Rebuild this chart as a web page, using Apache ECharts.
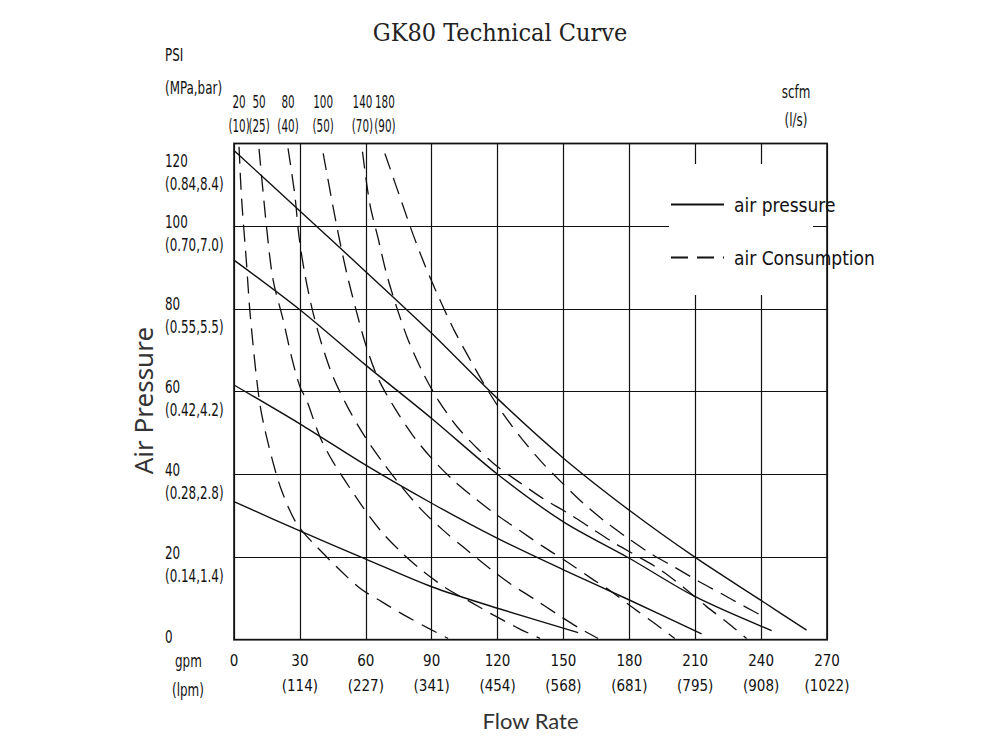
<!DOCTYPE html>
<html>
<head>
<meta charset="utf-8">
<title>GK80 Technical Curve</title>
<script src="https://cdn.jsdelivr.net/npm/echarts@6/dist/echarts.min.js"></script>
<style>
  html, body { margin: 0; padding: 0; background: #fff; }
  #chart { width: 1000px; height: 750px; }
</style>
</head>
<body>
<div id="chart"></div>
<script>
var ink = '#111';
var narrow = '"DejaVu Sans Condensed", "Liberation Sans", sans-serif';

// axis ticks
var gpmTicks = [0, 30, 60, 90, 120, 150, 180, 210, 240, 270];
var lpmTicks = ['', '114', '227', '341', '454', '568', '681', '795', '908', '1022'];
var psiTicks = [0, 20, 40, 60, 80, 100, 120];
var mpaBarTicks = ['', '(0.14,1.4)', '(0.28,2.8)', '(0.42,4.2)', '(0.55,5.5)', '(0.70,7.0)', '(0.84,8.4)'];

// air pressure curves [gpm, psi]
var pressure1 = [[0, 118.3], [30, 103.7], [60, 89], [90, 74.1], [120, 58.3], [150, 43.9], [180, 31.3], [210, 19.9], [240, 9.5], [260.7, 2.3]];
var pressure2 = [[0, 91.8], [30, 79.8], [60, 66.4], [90, 53.5], [120, 40], [150, 28.5], [180, 19.7], [210, 10.4], [244.8, 2.2]];
var pressure3 = [[0, 61.6], [30, 52.2], [60, 42.2], [90, 33], [120, 24.5], [150, 16.9], [180, 9.6], [212.9, 1.4]];
var pressure4 = [[0, 33.4], [30, 26.3], [60, 19.5], [90, 12.8], [120, 7.6], [156.7, 1.7]];

// air consumption curves [gpm, psi]
var air20 = [[2.3, 119.2], [3.4, 107.1], [5.7, 91], [7.2, 79.7], [10.2, 63.6], [12.5, 54.8], [17.1, 44.2], [21.6, 36.2], [28.5, 28.1], [37.6, 22.5], [56.5, 12.8], [67.2, 9.2], [77.3, 6], [88.4, 2.8], [97.5, 0.3]];
var air50 = [[11.4, 118.7], [14.8, 99.9], [17.8, 87], [22.4, 77.3], [26.2, 68.4], [30, 61.2], [33, 58], [39.1, 49.1], [45.1, 43], [58.5, 32.2], [67.2, 26.1], [76.7, 20.9], [86.4, 16.4], [96.8, 12.4], [107.4, 9.2], [118, 6], [128.6, 3], [139.3, 0.3]];
var air80 = [[24.6, 118.8], [27.7, 107.5], [29.6, 97.5], [32.2, 88.6], [35.7, 79.7], [39.8, 71.7], [45.1, 63.6], [52, 56], [59.6, 49.1], [67.6, 43], [76.3, 37], [85.4, 31.4], [95.2, 26.5], [105.1, 22.1], [115.3, 17.7], [125.6, 13.6], [136.2, 10], [146.5, 6.4], [157.2, 2.8], [165.8, 0.3]];
var air100 = [[40.6, 117.6], [45.1, 104.7], [48.2, 96.3], [51.7, 87.8], [55.8, 79.3], [60, 71.3], [65.6, 63.2], [73.2, 56], [81.3, 49.5], [89.9, 43.9], [99.8, 38.6], [109.7, 34.2], [119.5, 30.2], [130.1, 26.4], [140.8, 22.5], [151.4, 18.9], [161.7, 15.2], [171.9, 11.6], [182.5, 7.4], [192.4, 3.6], [200.7, 0.3]];
var air140 = [[58.5, 118], [61.8, 105.5], [65.6, 97.1], [69.4, 88.6], [74, 80.5], [79.3, 72.5], [85.8, 64.8], [92.9, 58], [101.6, 51.5], [110.7, 46.3], [120.3, 41.7], [130.9, 37.7], [141.1, 34], [152.1, 30.6], [162.8, 26.9], [173.4, 23.3], [184, 20.1], [194.7, 16.7], [205.3, 12.4], [215.2, 8], [225, 4], [233.4, 0.3]];
var air180 = [[68.7, 117.6], [76.3, 105.9], [81.6, 97.9], [87.2, 90.2], [93.4, 82.6], [99.8, 75.3], [107.1, 68.1], [115, 60.8], [122.3, 54.8], [130.9, 48.7], [140, 43], [149.6, 37.8], [159, 33], [169.2, 28.5], [179.5, 24.5], [190.1, 20.7], [200.7, 17.5], [211.3, 14.2], [222, 11.1], [232.6, 8], [241.7, 5.4]];

var pressureCurves = [pressure1, pressure2, pressure3, pressure4];
var consumptionCurves = [air20, air50, air80, air100, air140, air180];
var consumptionLabels = ['20\n(10)', '50\n(25)', '80\n(40)', '100\n(50)', '140\n(70)', '180\n(90)'];

var chart = echarts.init(document.getElementById('chart'), null, { renderer: 'svg' });

var series = [];
pressureCurves.forEach(function(d) {
  series.push({
    name: 'air pressure',
    type: 'line',
    data: d,
    symbol: 'none',
    smooth: 0.3,
    lineStyle: { color: ink, width: 1.4, type: 'solid' },
    itemStyle: { color: ink }
  });
});
consumptionCurves.forEach(function(d) {
  series.push({
    name: 'air Consumption',
    type: 'line',
    data: d,
    symbol: 'none',
    smooth: 0.3,
    lineStyle: { color: ink, width: 1.3, type: [17, 9] },
    itemStyle: { color: ink }
  });
});

chart.setOption({
  animation: false,
  backgroundColor: '#fff',
  title: {
    text: 'GK80 Technical Curve',
    left: 'center',
    top: 15,
    textStyle: { fontFamily: '"DejaVu Serif Condensed", "Liberation Mono", serif', fontWeight: 'normal', fontSize: 25, color: '#222' }
  },
  grid: { left: 234, right: 173, top: 143.5, bottom: 110.3, show: true, borderColor: '#444', borderWidth: 2, backgroundColor: 'transparent' },
  legend: {
    orient: 'vertical',
    left: 665,
    top: 190,
    itemWidth: 53,
    itemHeight: 20,
    itemGap: 34,
    selectedMode: false,
    itemStyle: { opacity: 0 },
    data: ['air pressure', 'air Consumption'],
    textStyle: { fontFamily: narrow, fontSize: 19, color: ink, padding: [0, 0, 0, 5] }
  },
  xAxis: {
    type: 'value',
    min: 0,
    max: 270,
    interval: 30,
    name: 'Flow Rate',
    nameLocation: 'middle',
    nameGap: 70,
    nameTextStyle: { fontFamily: 'Lato, "Noto Sans", sans-serif', fontSize: 22, color: '#333' },
    axisLine: { show: false },
    axisTick: { show: false },
    axisLabel: {
      margin: 9,
      fontFamily: narrow,
      fontSize: 15,
      lineHeight: 25,
      color: ink,
      formatter: function(v) {
        var i = gpmTicks.indexOf(v);
        return v === 0 ? '0' : v + '\n(' + lpmTicks[i] + ')';
      }
    },
    splitLine: { show: true, lineStyle: { color: ink, width: 1.2 } }
  },
  yAxis: {
    type: 'value',
    min: 0,
    max: 120,
    interval: 20,
    name: 'Air Pressure',
    nameLocation: 'middle',
    nameRotate: 90,
    nameGap: 78,
    nameTextStyle: { fontFamily: '"Noto Sans", sans-serif', fontSize: 26, color: '#333', padding: [0, 18, 0, 0] },
    axisLine: { show: false },
    axisTick: { show: false },
    axisLabel: { show: false },
    splitLine: { show: true, lineStyle: { color: ink, width: 1.2 } }
  },
  series: series
});

// texts placed from the axis scales; the drawing uses a narrow font, so squeeze them
function label(x, y, text, align, vAlign, size, squeeze) {
  return {
    type: 'text', x: x, y: y, scaleX: squeeze, z: 5,
    style: { text: text, align: align, verticalAlign: vAlign, fontFamily: narrow, fontSize: size, lineHeight: 24, fill: ink }
  };
}
var texts = [];
psiTicks.forEach(function(v, i) {
  var p = chart.convertToPixel({ gridIndex: 0 }, [0, v]);
  var off = v === 120 ? 18 : (v === 0 ? -2 : -4);
  texts.push(label(165, p[1] + off, String(v), 'left', 'middle', 17, 0.78));
  if (mpaBarTicks[i]) {
    texts.push(label(165, p[1] + off + 23, mpaBarTicks[i], 'left', 'middle', 17, 0.78));
  }
});
consumptionCurves.forEach(function(d, i) {
  var p = chart.convertToPixel({ gridIndex: 0 }, [d[0][0], 120]);
  texts.push(label(p[0], p[1] - 5, consumptionLabels[i], 'center', 'bottom', 17, 0.68));
});
texts.push(label(165, 55, 'PSI', 'left', 'middle', 17, 0.78));
texts.push(label(165, 88, '(MPa,bar)', 'left', 'middle', 17, 0.78));
texts.push(label(796, 92, 'scfm', 'center', 'middle', 17, 0.78));
texts.push(label(796, 120, '(l/s)', 'center', 'middle', 17, 0.78));
texts.push(label(175, 661, 'gpm', 'left', 'middle', 17, 0.78));
texts.push(label(172, 690, '(lpm)', 'left', 'middle', 17, 0.78));
// blank patch behind the legend, as in the original drawing
texts.push({ type: 'rect', z: 1, shape: { x: 669, y: 164, width: 144, height: 131 }, style: { fill: '#fff' } });

chart.setOption({ graphic: texts });
window.addEventListener('resize', function() { chart.resize(); });
</script>
</body>
</html>
